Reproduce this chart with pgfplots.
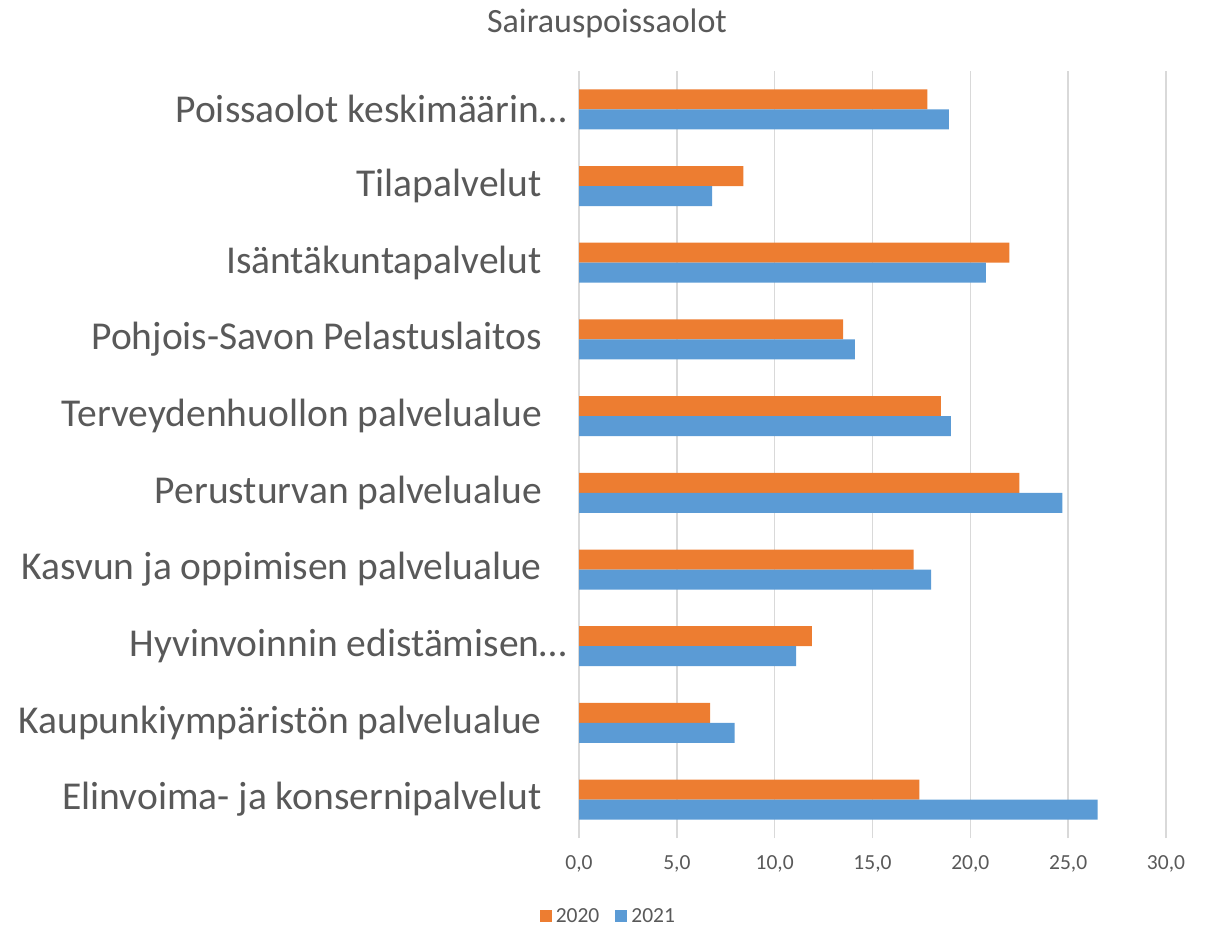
\documentclass[border=0pt]{standalone}
\usepackage{fontspec}
\setmainfont{Carlito}
\usepackage{pgfplots}
\pgfplotsset{compat=1.18}
\definecolor{c20}{HTML}{ED7D31}
\definecolor{c21}{HTML}{5B9BD5}
\definecolor{gridc}{HTML}{D9D9D9}
\definecolor{txt}{HTML}{595959}
\newcommand{\trsp}{\rule{25pt}{0pt}}
\begin{document}
\begin{tikzpicture}[x=1pt,y=1pt]
\useasboundingbox (0,0) rectangle (1207,926);
\node[text=txt, font=\fontsize{34}{38}\selectfont, inner sep=0pt] at (607,903) {Sairauspoissaolot};
\begin{axis}[
 at={(579pt,88pt)}, anchor=south west,
 scale only axis, width=587pt, height=767pt,
 xbar, bar width=20pt,
 xmin=0, xmax=30, ymin=-0.5, ymax=9.5,
 xtick={0,5,...,30},
 ytick={0,...,9},
 yticklabels={{Elinvoima- ja konsernipalvelut\trsp},
   {Kaupunkiympäristön palvelualue\trsp},
   {Hyvinvoinnin edistämisen…},
   {Kasvun ja oppimisen palvelualue\trsp},
   {Perusturvan palvelualue\trsp},
   {Terveydenhuollon palvelualue\trsp},
   {Pohjois-Savon Pelastuslaitos\trsp},
   {Isäntäkuntapalvelut\trsp},
   {Tilapalvelut\trsp},
   {Poissaolot keskimäärin…}},
 yticklabel style={text=txt, font=\fontsize{39.5}{42}\selectfont, inner sep=0pt, xshift=-12pt},
 xticklabel style={text=txt, font=\fontsize{21.5}{24}\selectfont, yshift=-14pt,
   /pgf/number format/.cd, fixed, fixed zerofill, precision=1, use comma, assume math mode=true},
 axis line style={draw=none},
 major tick length=0pt,
 xmajorgrids, grid style={gridc, line width=1.5pt},
 legend style={at={(0.05,-0.102)}, anchor=center, draw=none, legend columns=2,
   font=\fontsize{21.5}{24}\selectfont, text=txt,
   /tikz/every odd column/.append style={column sep=2pt},
   /tikz/every even column/.append style={column sep=14pt}},
 legend image code/.code={\fill[#1] (0pt,-6pt) rectangle (12pt,6pt);},
 clip=false,
]
\addplot[fill=c20, draw=none, bar shift=10pt] coordinates {
 (17.4,0) (6.7,1) (11.9,2) (17.1,3) (22.5,4) (18.5,5) (13.5,6) (22.0,7) (8.4,8) (17.8,9)};
\addplot[fill=c21, draw=none, bar shift=-10pt] coordinates {
 (26.5,0) (7.95,1) (11.1,2) (18.0,3) (24.7,4) (19.0,5) (14.1,6) (20.8,7) (6.8,8) (18.9,9)};
\legend{2020,2021}
\end{axis}
\end{tikzpicture}
\end{document}
